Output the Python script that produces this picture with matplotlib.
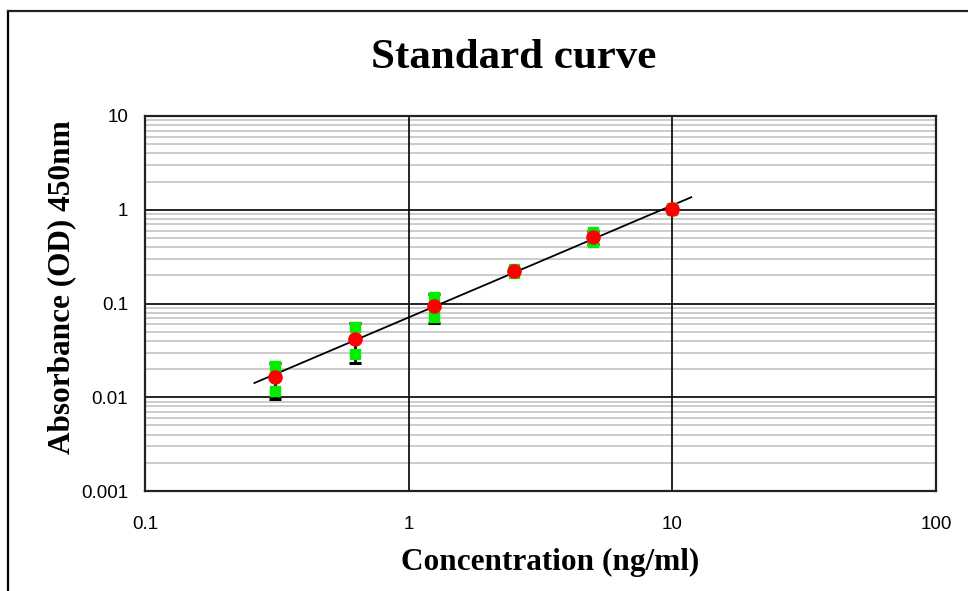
import matplotlib
matplotlib.use("Agg")
import matplotlib.pyplot as plt
import numpy as np
from matplotlib.lines import Line2D

# standard concentrations (ng/ml) and duplicate OD450 readings
conc = [0.3125, 0.625, 1.25, 2.5, 5.0, 10.0]
rep_a = [0.0214, 0.0558, 0.116, 0.232, 0.575, 1.05]
rep_b = [0.0116, 0.0288, 0.071, 0.214, 0.455, 1.00]
fit_range = [0.26, 11.8]

x_ticks = [0.1, 1, 10, 100]
x_labels = ["0.1", "1", "10", "100"]
y_ticks = [0.001, 0.01, 0.1, 1, 10]
y_labels = ["0.001", "0.01", "0.1", "1", "10"]

conc = np.array(conc)
reps = np.vstack([rep_a, rep_b])
mean = reps.mean(axis=0)
sd = reps.std(axis=0, ddof=1)

# power trendline, least squares in log-log space
b, log_a = np.polyfit(np.log10(conc), np.log10(mean), 1)
xf = np.array(fit_range)
yf = 10 ** log_a * xf ** b

serif = ["Liberation Serif", "DejaVu Serif"]
sans = ["Liberation Sans", "DejaVu Sans"]

fig = plt.figure(figsize=(9.68, 5.91), dpi=100)
W, H = 968, 591
ax = fig.add_axes([145 / W, 1 - 491 / H, (936 - 145) / W, (491 - 116) / H])
ax.set_xscale("log")
ax.set_yscale("log")
ax.set_xlim(0.1, 100)
ax.set_ylim(0.001, 10)
ax.minorticks_off()

# gray lines at 2..9 of every decade, black lines at the decades
for e in range(-3, 1):
    for m in range(2, 10):
        ax.axhline(m * 10.0 ** e, color="#c8c8c8", lw=1.3, zorder=1)
for t in y_ticks[1:-1]:
    ax.axhline(t, color="black", lw=1.2, zorder=1.5)
for t in x_ticks[1:-1]:
    ax.axvline(t, color="black", lw=1.2, zorder=1.5)

ax.set_xticks(x_ticks)
ax.set_xticklabels(x_labels, family=sans, fontsize=13.5)
ax.set_yticks(y_ticks)
ax.set_yticklabels(y_labels, family=sans, fontsize=13.5)
ax.tick_params(which="both", length=0)
ax.tick_params(axis="y", pad=12)
ax.tick_params(axis="x", pad=18)
for s in ax.spines.values():
    s.set_color("#222222")
    s.set_linewidth(1.6)

ax.plot(xf, yf, color="black", lw=1.3, zorder=3)
ax.errorbar(conc, mean, yerr=sd, fmt="none", ecolor="black", elinewidth=2,
            capsize=4, capthick=2.2, zorder=4)
for r in reps:
    ax.plot(conc, r, ls="none", marker="s", ms=7, color="#00ee00", mec="#00ee00", zorder=5)
ax.plot(conc, mean, ls="none", marker="o", ms=9.5, color="red", mec="red", zorder=6)

fig.text(514 / W, 1 - 58 / H, "Standard curve", family=serif, weight="bold",
         fontsize=31, ha="center", va="center")
fig.text(550 / W, 1 - 562 / H, "Concentration (ng/ml)", family=serif, weight="bold",
         fontsize=22.5, ha="center", va="center")
fig.text(62 / W, 1 - 287 / H, "Absorbance (OD) 450nm", family=serif, weight="bold",
         fontsize=22.5, ha="center", va="center", rotation=90)

# outer chart frame
fig.add_artist(Line2D([8 / W, 8 / W], [0, 1 - 11 / H], color="black", lw=1.6,
                      transform=fig.transFigure))
fig.add_artist(Line2D([8 / W, 1], [1 - 11 / H, 1 - 11 / H], color="#222222", lw=1.6,
                      transform=fig.transFigure))

fig.savefig("out.png", dpi=100)
